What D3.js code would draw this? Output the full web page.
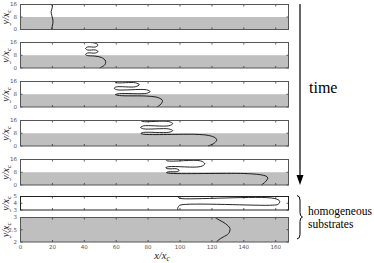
<!DOCTYPE html>
<html><head><meta charset="utf-8">
<script src="https://cdn.jsdelivr.net/npm/d3@7/dist/d3.min.js"></script>
<style>
html,body{margin:0;padding:0;background:#fff;}
svg{display:block;}
</style>
</head><body>
<svg id="chart" width="374" height="263"></svg>
<script>
// ---------- data ----------
const xTicks = [0, 20, 40, 60, 80, 100, 120, 140, 160];
const xDomain = [0, 168];
const stripeYTicks = [0, 8, 16];
const stripeYLabels = ["0", "8", "16"];
const stripeWet = [0, 8];          // wettable (grey) stripe, y range
const nonWetYTicks = [3, 4, 5];
const nonWetYLabels = ["3", "4", "5"];
const wetYTicks = [2, 2.5, 3];
const wetYLabels = ["2", "2.5", "3"];

// contact-line snapshots (x/xc, y/xc)
const curveT1 = [[19.5,16],[20.0,14.5],[19.2,11.5],[19.6,9],[20.4,5.5],[19.9,2],[19.3,0]];
const curveT2 = [[41,16],[46.4,15.7],[48.6,14.4],[47,13.2],[42,13.2],[40.8,12.2],[42,11.3],[47,11.3],[48.6,10.3],[47,9.4],[42,9.4],[40.8,8.5],[42,7.8],[46.4,7.5],[50.8,6.6],[53.3,4.4],[53,2.2],[50.8,0.6],[49.6,0]];
const curveT3 = [[59,16],[60,15.3],[72,15.2],[74.5,14],[72,12.7],[60,12.6],[58.8,11.8],[60,10.9],[79,10.8],[81.2,9.7],[79,8.6],[62,8.4],[59.5,7.8],[62,7.2],[80,6.8],[86.5,5.8],[89,4],[88,1.8],[85.5,0]];
const curveT4 = [[75.5,16],[76.5,15.4],[93,15.3],[95.4,14],[93,12.7],[77,12.6],[75.3,11.7],[77,10.8],[93,10.7],[95.4,9.6],[93,8.6],[77,8.5],[75.5,7.9],[77,7.4],[110,7.3],[118,6.6],[122,5.2],[123,3.8],[121.5,1.8],[117.5,0]];
const curveT5 = [[91,16],[92,15.2],[113,15.1],[115.5,13.3],[113,11.6],[93,11.5],[91,10.8],[92.5,10.2],[98,10.1],[99.5,9.2],[98,8.4],[93,8.3],[91.5,7.8],[93,7.4],[140,7.2],[150,6.5],[154,5.5],[155,4.4],[153.5,2],[151,0]];
const curveNonWet = [[98.5,5],[99,4.85],[100,4.72],[159,4.72],[162.5,4.3],[161.5,3.85],[158,3.72],[100,3.72],[99,3.5],[98.5,3.2],[98.7,3]];
const curveWet = [[122,3],[124.5,2.9],[128.5,2.75],[131.3,2.55],[130.5,2.35],[127,2.2],[124,2.08],[123,2]];

// ---------- layout ----------
const svg = d3.select("#chart");
const left = 20.5, right = 288.5;
const x = d3.scaleLinear().domain(xDomain).range([left, right]);

const panels = [
  {top: 4.5,   bot: 29.5,  dom: [0,16], ticks: stripeYTicks, labels: stripeYLabels, fill: "stripe", curve: curveT1},
  {top: 42.5,  bot: 68,    dom: [0,16], ticks: stripeYTicks, labels: stripeYLabels, fill: "stripe", curve: curveT2},
  {top: 81.5,  bot: 107,   dom: [0,16], ticks: stripeYTicks, labels: stripeYLabels, fill: "stripe", curve: curveT3},
  {top: 120.5, bot: 146,   dom: [0,16], ticks: stripeYTicks, labels: stripeYLabels, fill: "stripe", curve: curveT4},
  {top: 159.5, bot: 185,   dom: [0,16], ticks: stripeYTicks, labels: stripeYLabels, fill: "stripe", curve: curveT5},
  {top: 196.5, bot: 210,   dom: [3,5],  ticks: nonWetYTicks, labels: nonWetYLabels, fill: "none",   curve: curveNonWet},
  {top: 217.5, bot: 242,   dom: [2,3],  ticks: wetYTicks,    labels: wetYLabels,    fill: "all",    curve: curveWet}
];

const grey = "#bfbfbf";
const frame = "#555";

panels.forEach((p, i) => {
  const y = d3.scaleLinear().domain(p.dom).range([p.bot, p.top]);
  const g = svg.append("g");
  g.append("rect").attr("x", left).attr("y", p.top).attr("width", right-left).attr("height", p.bot-p.top).attr("fill", "#fff");
  if (p.fill === "stripe") {
    g.append("rect").attr("x", left).attr("y", y(stripeWet[1])).attr("width", right-left)
      .attr("height", y(stripeWet[0]) - y(stripeWet[1])).attr("fill", grey);
  } else if (p.fill === "all") {
    g.append("rect").attr("x", left).attr("y", p.top).attr("width", right-left).attr("height", p.bot-p.top).attr("fill", grey);
  }
  const tl = 2;
  xTicks.forEach(t => {
    g.append("line").attr("x1", x(t)).attr("x2", x(t)).attr("y1", p.top).attr("y2", p.top+tl).attr("stroke", "#333").attr("stroke-width", 0.8);
    g.append("line").attr("x1", x(t)).attr("x2", x(t)).attr("y1", p.bot).attr("y2", p.bot-tl).attr("stroke", "#333").attr("stroke-width", 0.8);
  });
  p.ticks.forEach((t, k) => {
    g.append("line").attr("x1", left).attr("x2", left+tl).attr("y1", y(t)).attr("y2", y(t)).attr("stroke", "#333").attr("stroke-width", 0.8);
    g.append("line").attr("x1", right).attr("x2", right-tl).attr("y1", y(t)).attr("y2", y(t)).attr("stroke", "#333").attr("stroke-width", 0.8);
    g.append("text").attr("x", 17).attr("y", y(t)).attr("dy", "0.35em")
      .attr("text-anchor", "end").attr("font-family", "DejaVu Sans, sans-serif").attr("font-size", 5.5)
      .attr("fill", "#555").text(p.labels[k]);
  });
  const line = d3.line().x(d => x(d[0])).y(d => y(d[1])).curve(d3.curveCatmullRom.alpha(0.5));
  g.append("path").attr("d", line(p.curve)).attr("fill", "none").attr("stroke", "#000").attr("stroke-width", 0.85);
  g.append("rect").attr("x", left).attr("y", p.top).attr("width", right-left).attr("height", p.bot-p.top)
    .attr("fill", "none").attr("stroke", i === 5 ? "#222" : frame).attr("stroke-width", 1);
  const yl = g.append("text").attr("transform", `translate(9,${(p.top+p.bot)/2}) rotate(-90)`)
    .attr("text-anchor", "middle").attr("font-family", "Liberation Serif, serif").attr("font-style", "italic")
    .attr("font-size", 10).attr("fill", "#222");
  yl.append("tspan").text("y/x");
  yl.append("tspan").attr("font-size", 7).attr("dy", 2).text("c");
});

const last = panels[panels.length-1];
xTicks.forEach(t => {
  svg.append("text").attr("x", x(t)).attr("y", last.bot + 7).attr("text-anchor", "middle")
    .attr("font-family", "DejaVu Sans, sans-serif").attr("font-size", 5.5).attr("fill", "#555").text(String(t));
});
const xl = svg.append("text").attr("x", 162).attr("y", 259).attr("text-anchor", "middle")
  .attr("font-family", "Liberation Serif, serif").attr("font-style", "italic").attr("font-size", 10.5).attr("fill", "#222");
xl.append("tspan").text("x/x");
xl.append("tspan").attr("font-size", 7.5).attr("dy", 2).text("c");

svg.append("line").attr("x1", 300).attr("x2", 300).attr("y1", 4).attr("y2", 177).attr("stroke", "#000").attr("stroke-width", 1.2);
svg.append("path").attr("d", "M296.5,175 L303.5,175 L300,185 Z").attr("fill", "#000");
svg.append("text").attr("x", 309).attr("y", 93).attr("font-family", "Liberation Serif, serif")
  .attr("font-size", 16).attr("fill", "#000").text("time");

svg.append("path").attr("d", "M297,195.5 Q300,196 300,200 L300,212.5 Q300,216.5 302.5,217 Q300,217.5 300,221.5 L300,234.5 Q300,238.5 297,239")
  .attr("fill", "none").attr("stroke", "#000").attr("stroke-width", 1);
svg.append("text").attr("x", 308).attr("y", 215).attr("font-family", "Liberation Serif, serif")
  .attr("font-size", 11.5).attr("textLength", 64).attr("lengthAdjust", "spacingAndGlyphs").attr("fill", "#000").text("homogeneous");
svg.append("text").attr("x", 308).attr("y", 228).attr("font-family", "Liberation Serif, serif")
  .attr("font-size", 11.5).attr("fill", "#000").text("substrates");
</script>
</body></html>
